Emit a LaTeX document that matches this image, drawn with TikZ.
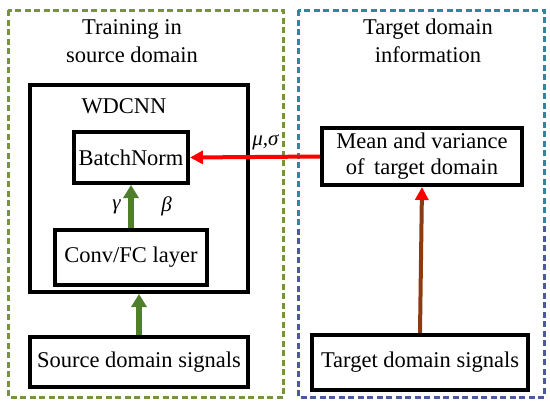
\documentclass[tikz,border=0pt]{standalone}
\usepackage{fontspec}
\setmainfont{Liberation Serif}
\usetikzlibrary{arrows.meta,positioning,calc}
\definecolor{SrcGreen}{HTML}{77933C}
\definecolor{TgtBlue}{HTML}{31859C}
\definecolor{TgtNavy}{HTML}{4B5A9C}
\definecolor{ArrGreen}{HTML}{4F7F2A}
\definecolor{ArrBrown}{HTML}{8B3A12}
\tikzset{
  blockbox/.style={draw=black,line width=4pt,fill=white,inner sep=0pt,font=\fontsize{22.5}{26}\selectfont},
  regionbox/.style={line width=3pt,dash pattern=on 6pt off 3.5pt},
  caption/.style={align=center,font=\fontsize{22.5}{28}\selectfont},
  greek/.style={text=black,font=\fontsize{21}{24}\selectfont\itshape},
}
\begin{document}
\begin{tikzpicture}[x=1pt,y=-1pt]
\useasboundingbox (0,0) rectangle (550,407);
% dashed regions
\draw[regionbox,SrcGreen] (8,10) rectangle (283,397);
\begin{scope}
  \clip (290,0) rectangle (550,225);
  \draw[regionbox,TgtBlue] (298,10) rectangle (544,397);
\end{scope}
\begin{scope}
  \clip (290,225) rectangle (550,407);
  \draw[regionbox,TgtNavy] (298,10) rectangle (544,397);
\end{scope}
\node[caption] (srctitle) at (132,41) {Training in\\source domain};
\node[caption] (tgttitle) at (428,41) {Target domain\\information};
% source side
\node[blockbox,minimum width=218pt,minimum height=207pt] (wdcnn) at (139,188.5) {};
\node[font=\fontsize{22.5}{26}\selectfont] (wdname) at (124,106) {WDCNN};
\node[blockbox,minimum width=114pt,minimum height=51pt] (bn) at (131,157.5) {BatchNorm};
\node[blockbox,minimum width=152pt,minimum height=55pt] (conv) at (131,257.5) {Conv/FC layer};
\node[blockbox,minimum width=218pt,minimum height=50pt] (src) at (139,362) {Source domain signals};
% target side
\node[blockbox,minimum width=200pt,minimum height=57pt,align=center] (mean) at (422,156.5) {Mean and variance\\of\, target domain};
\node[blockbox,minimum width=216pt,minimum height=55pt] (tgt) at (420,362.5) {Target domain signals};
% connectors
\draw[-{Triangle[length=13pt,width=15pt]},ArrGreen,line width=6pt] (conv.north) -- (bn.south)
  node[pos=0.5,left=4pt,greek] (gam) {γ}
  node[pos=0.5,right=24pt,greek] (bet) {β};
\draw[-{Triangle[length=13pt,width=15pt]},ArrGreen,line width=6pt] (src.north) -- (wdcnn.south);
\draw[-{Triangle[length=13pt,width=13pt]},red,line width=4pt] (mean.west) -- (bn.east)
  node[pos=0.42,above=2pt,greek] (musig) {μ,σ};
\draw[-{Triangle[length=13pt,width=13pt,color=red]},ArrBrown,line width=4pt] (tgt.north) -- (mean.south);
\end{tikzpicture}
\end{document}
